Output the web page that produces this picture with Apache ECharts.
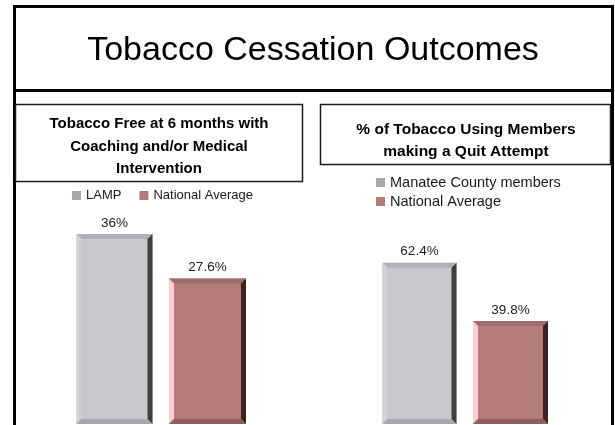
<!DOCTYPE html>
<html>
<head>
<meta charset="utf-8">
<script src="https://cdn.jsdelivr.net/npm/echarts@6/dist/echarts.min.js"></script>
<style>
  html, body { margin: 0; padding: 0; background: #fff; }
  #chart { width: 615px; height: 425px; }
</style>
</head>
<body>
<div id="chart"></div>
<script>
// chart data
const leftCats = ['Tobacco Free at 6 months'];
const lampValues = [36];
const natLeftValues = [27.6];
const rightCats = ['Quit Attempt'];
const manateeValues = [62.4];
const natRightValues = [39.8];

const FONT = 'Liberation Sans, Arial, sans-serif';

// bar with bevelled edges, placed through the axis scales
function bevelBar(cols, barW, shift) {
  return function (params, api) {
    let top = api.coord([api.value(0), api.value(1)]);
    let base = api.coord([api.value(0), 0]);
    let cx = top[0] + shift;
    let x0 = cx - barW / 2, x1 = cx + barW / 2;
    let y0 = top[1], y1 = base[1];
    let b = 5;
    return {
      type: 'group',
      children: [
        { type: 'rect', shape: { x: x0, y: y0, width: barW, height: y1 - y0 }, style: { fill: cols.face } },
        { type: 'polygon', shape: { points: [[x0, y0], [x1, y0], [x1 - b, y0 + b], [x0 + b, y0 + b]] }, style: { fill: cols.top } },
        { type: 'polygon', shape: { points: [[x0, y0], [x0 + b, y0 + b], [x0 + b, y1 - b], [x0, y1]] }, style: { fill: cols.left } },
        { type: 'polygon', shape: { points: [[x1, y0], [x1, y1], [x1 - b, y1 - b], [x1 - b, y0 + b]] }, style: { fill: cols.right } },
        { type: 'polygon', shape: { points: [[x0, y1], [x0 + b, y1 - b], [x1 - b, y1 - b], [x1, y1]] }, style: { fill: cols.bottom } },
        {
          type: 'text',
          style: {
            text: api.value(1) + '%', x: cx, y: y0 - 4,
            align: 'center', verticalAlign: 'bottom',
            fontSize: 13.5, fontFamily: FONT, fill: '#1a1a1a'
          }
        }
      ]
    };
  };
}

const grayCols = { face: '#c9c7cc', top: '#b3b1b7', left: '#d2d0d5', right: '#3e3e3e', bottom: '#a9a7ad' };
const redCols = { face: '#b37c7a', top: '#a26d6c', left: '#fcd0cc', right: '#3a2424', bottom: '#8e5e5d' };

let myChart = echarts.init(document.getElementById('chart'));

myChart.setOption({
  backgroundColor: '#fff',
  animation: false,
  textStyle: { fontFamily: FONT },
  graphic: [
    // outer frame lines
    { type: 'line', shape: { x1: 14.5, y1: 90, x2: 14.5, y2: 425 }, style: { stroke: '#000', lineWidth: 3 } },
    { type: 'line', shape: { x1: 612.5, y1: 90, x2: 612.5, y2: 425 }, style: { stroke: '#000', lineWidth: 3 } },
    // main title box
    { type: 'rect', shape: { x: 14.5, y: 6.5, width: 598, height: 84 }, style: { fill: '#fff', stroke: '#000', lineWidth: 3 } },
    {
      type: 'text', x: 313, y: 51,
      style: { text: 'Tobacco Cessation Outcomes', align: 'center', verticalAlign: 'middle', fontSize: 34, fontFamily: FONT, fill: '#000' }
    },
    // left chart title
    { type: 'rect', shape: { x: 15.5, y: 104.5, width: 287, height: 77 }, style: { fill: '#fff', stroke: '#1a1a1a', lineWidth: 1.5 } },
    {
      type: 'text', x: 159, y: 146.5,
      style: {
        text: 'Tobacco Free at 6 months with\nCoaching and/or Medical\nIntervention',
        align: 'center', verticalAlign: 'middle', lineHeight: 22.5,
        fontSize: 15, fontWeight: 'bold', fontFamily: FONT, fill: '#000'
      }
    },
    // right chart title
    { type: 'rect', shape: { x: 320.5, y: 104.5, width: 290, height: 60 }, style: { fill: '#fff', stroke: '#1a1a1a', lineWidth: 1.5 } },
    {
      type: 'text', x: 466, y: 141,
      style: {
        text: '% of Tobacco Using Members\nmaking a Quit Attempt',
        align: 'center', verticalAlign: 'middle', lineHeight: 22,
        fontSize: 15.5, fontWeight: 'bold', fontFamily: FONT, fill: '#000'
      }
    }
  ],
  legend: [
    {
      left: 72, top: 189, padding: 0, itemGap: 18, itemWidth: 9, itemHeight: 9,
      icon: 'rect',
      textStyle: { fontSize: 13, color: '#1a1a1a', fontFamily: FONT },
      data: [
        { name: 'LAMP', itemStyle: { color: '#a9a7ad' } },
        { name: 'National Average', itemStyle: { color: '#b37c7a' } }
      ]
    },
    {
      left: 376, top: 175, padding: 0, orient: 'vertical', itemGap: 4, itemWidth: 9, itemHeight: 9,
      icon: 'rect',
      textStyle: { fontSize: 14.5, color: '#1a1a1a', fontFamily: FONT },
      data: [
        { name: 'Manatee County members', itemStyle: { color: '#a9a7ad' } },
        { name: 'National Average', itemStyle: { color: '#b37c7a' } }
      ]
    }
  ],
  grid: [
    { left: 20, right: 312, top: 213, bottom: 1 },
    { left: 320, right: 5, top: 243, bottom: 1 }
  ],
  xAxis: [
    { type: 'category', gridIndex: 0, data: leftCats, show: false },
    { type: 'category', gridIndex: 1, data: rightCats, show: false }
  ],
  yAxis: [
    { type: 'value', gridIndex: 0, min: 0, max: 40, show: false },
    { type: 'value', gridIndex: 1, min: 0, max: 70, show: false }
  ],
  series: [
    {
      name: 'LAMP', type: 'custom', xAxisIndex: 0, yAxisIndex: 0,
      itemStyle: { color: '#a9a7ad' },
      renderItem: bevelBar(grayCols, 76, -47),
      data: leftCats.map((c, i) => [i, lampValues[i]])
    },
    {
      name: 'National Average', type: 'custom', xAxisIndex: 0, yAxisIndex: 0,
      itemStyle: { color: '#b37c7a' },
      renderItem: bevelBar(redCols, 77, 46),
      data: leftCats.map((c, i) => [i, natLeftValues[i]])
    },
    {
      name: 'Manatee County members', type: 'custom', xAxisIndex: 1, yAxisIndex: 1,
      itemStyle: { color: '#a9a7ad' },
      renderItem: bevelBar(grayCols, 74, -45.5),
      data: rightCats.map((c, i) => [i, manateeValues[i]])
    },
    {
      name: 'National Average', type: 'custom', xAxisIndex: 1, yAxisIndex: 1,
      itemStyle: { color: '#b37c7a' },
      renderItem: bevelBar(redCols, 75, 45.5),
      data: rightCats.map((c, i) => [i, natRightValues[i]])
    }
  ]
});
</script>
</body>
</html>
